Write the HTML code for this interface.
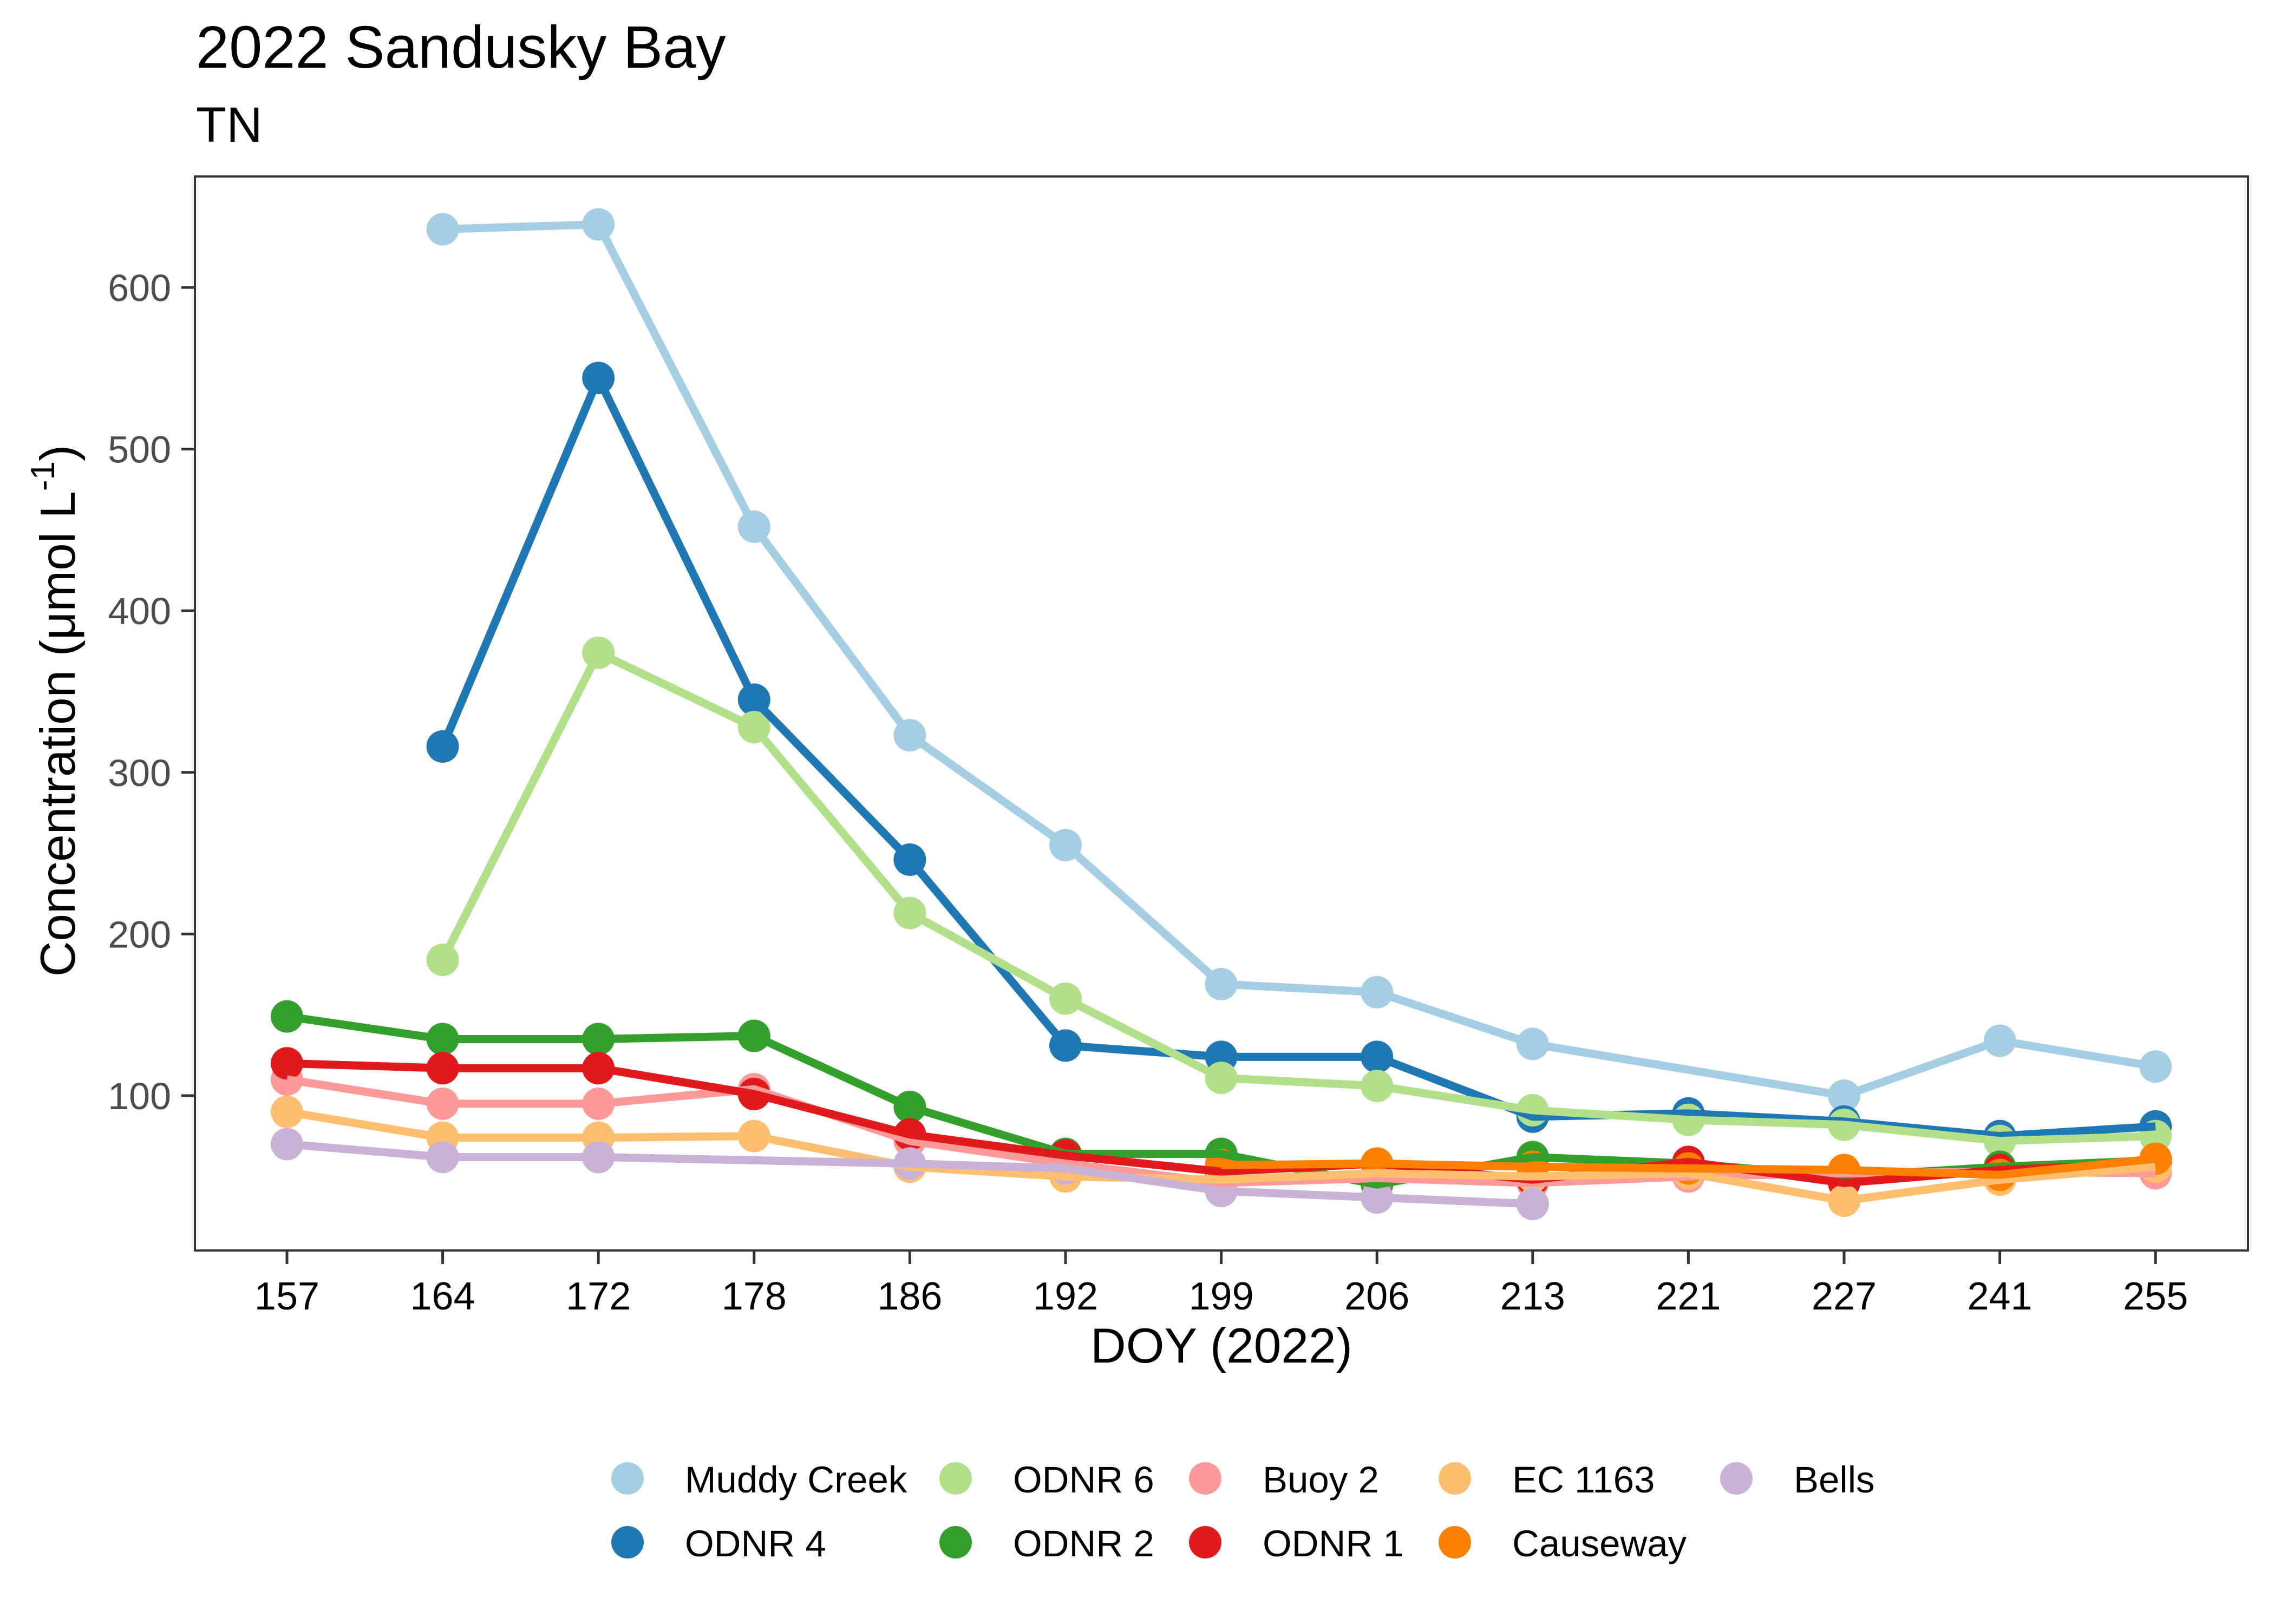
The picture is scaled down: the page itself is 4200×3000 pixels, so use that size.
<!DOCTYPE html>
<html><head><meta charset="utf-8"><style>
html,body{margin:0;padding:0;background:#fff;}
svg{display:block;font-family:"Liberation Sans",Arial,sans-serif;}
</style></head><body>
<svg id="chart" width="4200" height="3000" viewBox="0 0 4200 3000">
<rect x="0" y="0" width="4200" height="3000" fill="#fff"/>
<text x="362" y="125" font-size="110" fill="#000">2022 Sandusky Bay</text>
<text x="362" y="262" font-size="92" fill="#000">TN</text>
<g id="ticks"></g>
<g id="points"></g>
<g id="lines"></g>
<rect x="360" y="326" width="3792" height="1984" fill="none" stroke="#333" stroke-width="4"/>
<text x="2256" y="2517" font-size="91" text-anchor="middle" fill="#000">DOY (2022)</text>
<text transform="translate(138,1313) rotate(-90)" font-size="91" text-anchor="middle" fill="#000">Concentration (μmol L<tspan dy="-38" font-size="62">-1</tspan><tspan dy="38">)</tspan></text>
<g id="legend"></g>
</svg>
<script>
const categories = ["157","164","172","178","186","192","199","206","213","221","227","241","255"];
const yTicks = [100,200,300,400,500,600];
const seriesNames = ["Muddy Creek","ODNR 4","ODNR 6","ODNR 2","Buoy 2","ODNR 1","EC 1163","Causeway","Bells"];
const seriesColors = ["#A6CEE3","#1F78B4","#B2DF8A","#33A02C","#FB9A99","#E31A1C","#FDBF6F","#FF7F00","#CAB2D6"];
const muddyCreek = [null,636,639,452,323,255,169,164,132,null,100,134,118];
const odnr4 = [null,316,544,345,246,131,124,124,87,89,84,75,81];
const odnr6 = [null,184,374,328,213,160,111,106,91,85,82,72,75];
const odnr2 = [149,135,135,137,93,64,64,45,62,58,50,56,60];
const buoy2 = [110,95,95,104,72,58,46,49,46,50,52,53,52];
const odnr1 = [120,117,117,101,76,63,53,58,48,59,46,54,58];
const ec1163 = [90,74,74,75,56,50,48,52,50,52,35,48,56];
const causeway = [null,null,null,null,null,null,57,58,56,55,54,51,61];
const bells = [70,62,62,null,58,55,41,37,33,null,null,null,null];
const seriesValues = [muddyCreek,odnr4,odnr6,odnr2,buoy2,odnr1,ec1163,causeway,bells];

const NS="http://www.w3.org/2000/svg";
function xPos(i){ return 530 + i*287.6; }
function yPos(v){ return 2024 - (v-100)*2.986; }
function mk(tag,attrs,parent){ const e=document.createElementNS(NS,tag); for(const k in attrs) e.setAttribute(k,attrs[k]); parent.appendChild(e); return e; }

const gT=document.getElementById('ticks');
yTicks.forEach(v=>{
  const t=mk('line',{x1:335,x2:360,y1:yPos(v),y2:yPos(v),stroke:'#333','stroke-width':5},gT);
  
  
  const l=mk('text',{x:316,y:yPos(v)+25,'font-size':70,'text-anchor':'end',fill:'#4d4d4d'},gT);
  l.textContent=v;
  
  
});
categories.forEach((c,i)=>{
  const t=mk('line',{x1:xPos(i),x2:xPos(i),y1:2310,y2:2335,stroke:'#333','stroke-width':5},gT);
  
  
  const l=mk('text',{x:xPos(i),y:2419,'font-size':72,'text-anchor':'middle',fill:'#000'},gT);
  l.textContent=c;
  
  
});

const gP=document.getElementById('points'), gL=document.getElementById('lines');
seriesValues.forEach((vals,s)=>{
  const pts=[];
  vals.forEach((v,i)=>{ if(v!==null){ pts.push([xPos(i),yPos(v)]);
    const c=mk('circle',{cx:xPos(i),cy:yPos(v),r:30,fill:seriesColors[s]},gP);
    
    
  }});
  const p=mk('polyline',{points:pts.map(q=>q.join(',')).join(' '),fill:'none',stroke:seriesColors[s],'stroke-width':15,'stroke-linejoin':'round'},gL);
  
  
});

const gG=document.getElementById('legend');
const colX=[1159,1765,2226,2687,3207];
seriesNames.forEach((n,s)=>{
  const col=Math.floor(s/2), row=s%2;
  const cy= row===0?2731:2849;
  const c=mk('circle',{cx:colX[col],cy:cy,r:30,fill:seriesColors[s]},gG);
  
  
  const t=mk('text',{x:colX[col]+106,y:cy+26,'font-size':69,fill:'#000'},gG);
  t.textContent=n;
  
  
});
</script>
</body></html>
